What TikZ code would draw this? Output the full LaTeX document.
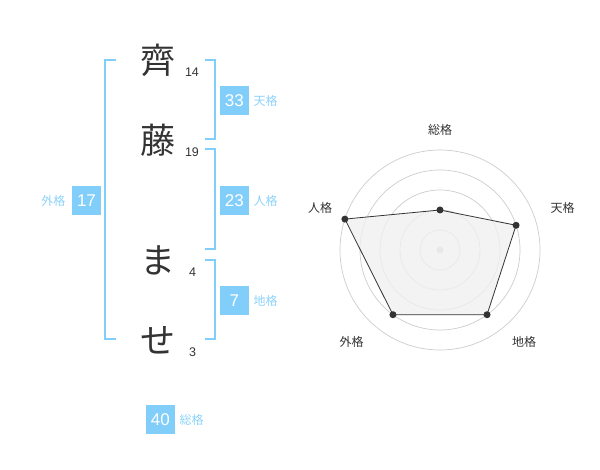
\documentclass[tikz,border=0pt]{standalone}
\usepackage{fontspec}
\usetikzlibrary{calc}
\setmainfont{Liberation Sans}
\newfontfamily\jp{Noto Sans CJK JP}
\definecolor{kblue}{RGB}{130,206,250}
\definecolor{klabel}{RGB}{140,210,250}
\definecolor{ktext}{RGB}{51,51,51}
\definecolor{kgrid}{RGB}{204,204,204}
\definecolor{kfill}{RGB}{240,240,240}
\tikzset{
  kanji/.style={inner sep=0pt, text=ktext, font=\jp\fontsize{35}{35}\selectfont, text height=30.8pt, text depth=4.2pt},
  strokes/.style={inner sep=0pt, text=ktext, font=\fontsize{12.5}{12.5}\selectfont},
  numbox/.style={fill=kblue, text=white, minimum size=29pt, inner sep=0pt, font=\fontsize{17}{17}\selectfont},
  kaku/.style={inner sep=0pt, text=klabel, font=\jp\fontsize{12}{12}\selectfont},
  bracket/.style={draw=kblue, line width=2pt},
  radlabel/.style={inner sep=0pt, text=ktext, font=\jp\fontsize{12}{12}\selectfont},
  grid/.style={draw=kgrid, line width=0.7pt},
  dot/.style={circle, fill=ktext, inner sep=0pt, minimum size=7pt}
}
\begin{document}
\begin{tikzpicture}[x=1pt, y=-1pt]
\useasboundingbox (0,0) rectangle (600,470);
% characters
\node[kanji] (c1) at (158,60) {齊};
\node[kanji] (c2) at (158,140) {藤};
\node[kanji] (c3) at (158,260) {ま};
\node[kanji] (c4) at (158,340) {せ};
\node[strokes] (s1) at (192,72.5) {14};
\node[strokes] (s2) at (192,152.5) {19};
\node[strokes] (s3) at (192.5,272.5) {4};
\node[strokes] (s4) at (192.5,352.5) {3};
% brackets
\draw[bracket] (115.7,60) -- (105,60) -- (105,339.3) -- (115.7,339.3);
\draw[bracket] (205,60) -- (215,60) -- (215,139.3) -- (205,139.3);
\draw[bracket] (205,149.3) -- (215,149.3) -- (215,249.3) -- (205,249.3);
\draw[bracket] (205,260) -- (215,260) -- (215,339.3) -- (205,339.3);
% boxes
\node[numbox] (ten) at (234.3,100.3) {33};
\node[kaku] (tenl) at (265.7,100.5) {天格};
\node[numbox] (jin) at (234.3,200.3) {23};
\node[kaku] (jinl) at (265.7,200.5) {人格};
\node[numbox] (chi) at (234.3,300.3) {7};
\node[kaku] (chil) at (265.7,300.5) {地格};
\node[numbox] (gai) at (86.5,200.3) {17};
\node[kaku] (gail) at (53.5,200.5) {外格};
\node[numbox] (sou) at (160.3,419.3) {40};
\node[kaku] (soul) at (191.7,419.5) {総格};
% radar
\coordinate (O) at (440,250);
\foreach \r in {20,40,60,80,100} \draw[grid] (O) circle[radius=\r];
\fill[kgrid] (O) circle[radius=3.5];
\coordinate (pS) at ($(O)+(-90:40)$);
\coordinate (pT) at ($(O)+(-18:80)$);
\coordinate (pC) at ($(O)+(54:80)$);
\coordinate (pG) at ($(O)+(126:80)$);
\coordinate (pJ) at ($(O)+(198:100)$);
\draw[draw=ktext, fill=kfill, fill opacity=0.8, line width=0.8pt] (pS) -- (pT) -- (pC) -- (pG) -- (pJ) -- cycle;
\foreach \p in {pS,pT,pC,pG,pJ} \node[dot] at (\p) {};
\node[radlabel] (lS) at (440,130) {総格};
\node[radlabel] (lT) at (562.7,208) {天格};
\node[radlabel] (lC) at (524,342) {地格};
\node[radlabel] (lG) at (351.7,342) {外格};
\node[radlabel] (lJ) at (320,208) {人格};
\end{tikzpicture}
\end{document}
